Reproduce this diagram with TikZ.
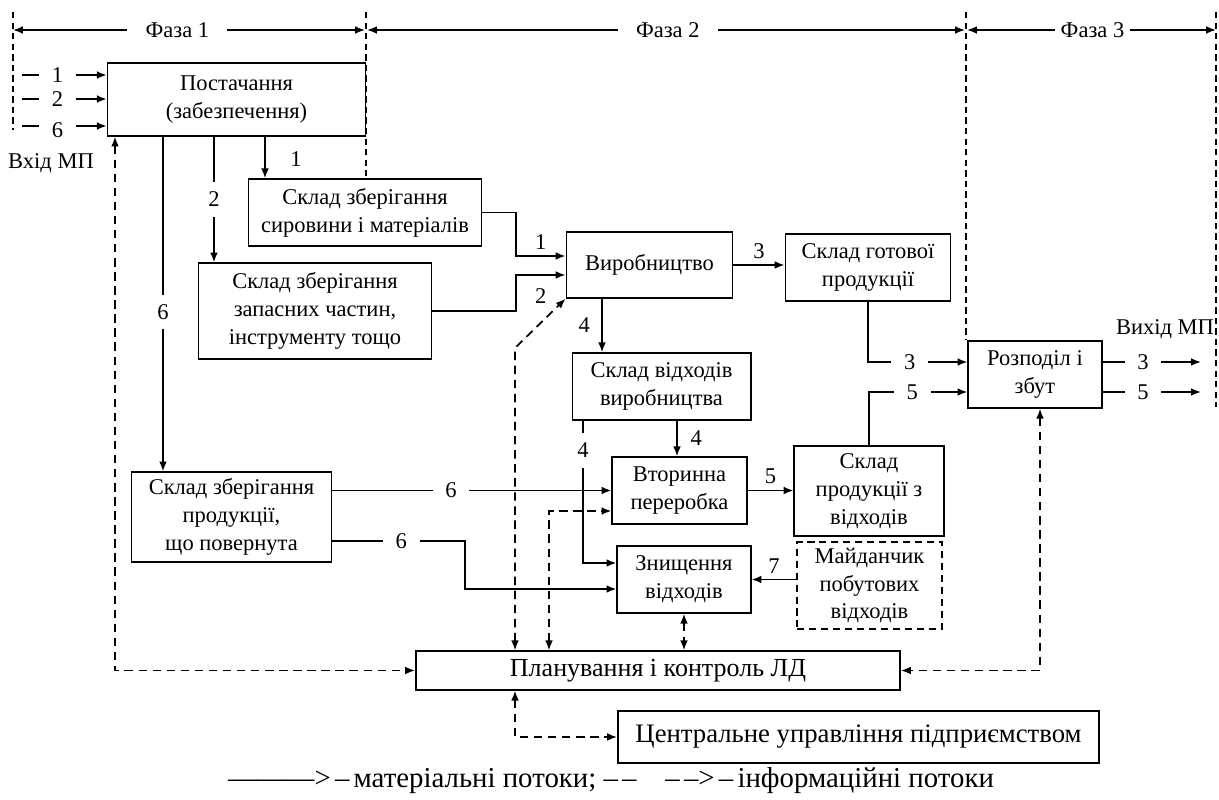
\documentclass[tikz,border=0pt]{standalone}
\usepackage{fontspec}
\setmainfont{Liberation Serif}
\usetikzlibrary{arrows.meta,calc}
\begin{document}
\begin{tikzpicture}[x=0.025cm,y=-0.025cm,
  >={Latex[length=7pt,width=5.5pt]},
  txt/.style={font=\fontsize{16}{19.8}\selectfont},
  box/.style={draw,line width=1.1pt,inner sep=0pt,align=center,txt},
  dbox/.style={box,dash pattern=on 5pt off 3.5pt},
  flow/.style={line width=1.2pt,->},
  info/.style={line width=1.2pt,dash pattern=on 6pt off 4pt,<->},
  hl/.style={fill=white,inner xsep=9pt,inner ysep=2pt,txt},
  vl/.style={fill=white,inner xsep=2pt,inner ysep=7pt,txt},
  nl/.style={inner sep=1pt,txt},
  phase/.style={line width=0.9pt,dash pattern=on 4.5pt off 3pt},
  parr/.style={line width=1.2pt,<->},
]
\useasboundingbox (0,0) rectangle (1219,800);

% ---------- boxes ----------
\node[box,minimum width=183.5pt,minimum height=51.7pt] (post) at (236.5,99.5) {Постачання\\(забезпечення)};
\node[box,minimum width=165.8pt,minimum height=47.5pt] (syr) at (365,212.5) {Склад зберігання\\сировини і матеріалів};
\node[box,minimum width=165.8pt,minimum height=68pt] (zap) at (315,311) {Склад зберігання\\запасних частин,\\інструменту тощо};
\node[box,minimum width=118.3pt,minimum height=46.8pt] (vyr) at (649.5,265) {Виробництво};
\node[box,minimum width=117.6pt,minimum height=47.5pt] (got) at (868,267.5) {Склад готової\\продукції};
\node[box,minimum width=95pt,minimum height=47.5pt] (rozp) at (1035,374.5) {Розподіл і\\збут};
\node[box,minimum width=126.9pt,minimum height=47.5pt] (vidh) at (661.5,386.5) {Склад відходів\\виробництва};
\node[box,minimum width=95.7pt,minimum height=47.5pt] (vtor) at (679.5,490.5) {Вторинна\\переробка};
\node[box,minimum width=95pt,minimum height=47.5pt] (znysh) at (684,579.5) {Знищення\\відходів};
\node[box,minimum width=106.3pt,minimum height=63.8pt] (prvid) at (869,491) {Склад\\продукції з\\відходів};
\node[dbox,minimum width=102.8pt,minimum height=61.7pt] (maid) at (869.5,585.5) {Майданчик\\побутових\\відходів};
\node[box,minimum width=142.4pt,minimum height=63.8pt] (povern) at (231.5,517) {Склад зберігання\\продукції,\\що повернута};
\node[box,minimum width=344.4pt,minimum height=27.6pt,font=\fontsize{18.5}{22}\selectfont] (plan) at (658,670.5) {Планування і контроль ЛД};
\node[box,minimum width=342.3pt,minimum height=36.9pt,font=\fontsize{19}{22}\selectfont] (centr) at (858.5,737) {Центральне управління підприємством};

% ---------- free texts ----------
\node[txt] (vhid) at (51,163) {Вхід МП};
\node[txt] (vyhid) at (1165,329) {Вихід МП};
\node[font=\fontsize{20.5}{24}\selectfont] (legend) at (611,781) {———>\hspace{3pt}–\hspace{3pt}матеріальні потоки; –\hspace{3pt}–\quad–\hspace{3pt}–>\hspace{3pt}–\hspace{3pt}інформаційні потоки};

% ---------- helper coordinates ----------
\coordinate (x115) at (115,0);
\coordinate (x163) at (163,0);
\coordinate (x214) at (214,0);
\coordinate (x265) at (265,0);
\coordinate (x515) at (515,0);
\coordinate (x549) at (549,0);
\coordinate (x583) at (583,0);
\coordinate (x602) at (602,0);
\coordinate (x677) at (677,0);
\coordinate (x1040) at (1040,0);
\coordinate (y362) at (0,362);
\coordinate (y392) at (0,392);
\coordinate (y511) at (0,511);
\coordinate (y541) at (0,541);
\coordinate (y563) at (0,563);
\coordinate (j1) at (516,256);
\coordinate (j2) at (516,275);
\coordinate (j3) at (465,589);
\coordinate (k1) at (515,348);
\coordinate (i1) at (22,75);
\coordinate (i2) at (22,99);
\coordinate (i6) at (22,126);
\coordinate (o3) at (1201,362);
\coordinate (o5) at (1201,392);

% ---------- phases ----------
\coordinate (p0) at (13,30);
\coordinate (p1) at (365,30);
\coordinate (p1b) at (367,30);
\coordinate (p2) at (965,30);
\coordinate (p2b) at (967,30);
\coordinate (p3) at (1216,30);
\draw[phase] (13,12) -- (13,130);
\draw[phase] (366,12) -- (366,176);
\draw[phase] (966,12) -- (966,339);
\draw[phase] (1216,12) -- (1216,407);
\draw[parr] (p0) -- node[pos=0.467,fill=white,inner xsep=13pt,inner ysep=2pt,txt]{Фаза 1} (p1);
\draw[parr] (p1b) -- node[pos=0.503,fill=white,inner xsep=13pt,inner ysep=2pt,txt]{Фаза 2} (p2);
\draw[parr] (p2b) -- node[pos=0.504,fill=white,inner xsep=4pt,inner ysep=2pt,txt]{Фаза 3} (p3);

% ---------- inputs / outputs ----------
\draw[flow] (i1) -- node[pos=0.42,hl]{1} (post.west |- i1);
\draw[flow] (i2) -- node[pos=0.42,hl]{2} (post.west |- i2);
\draw[flow] (i6) -- node[pos=0.42,hl,yshift=-3pt]{6} (post.west |- i6);
\draw[flow] (rozp.east |- o3) -- node[pos=0.41,hl]{3} (o3);
\draw[flow] (rozp.east |- o5) -- node[pos=0.41,hl]{5} (o5);

% ---------- material flows ----------
\draw[flow] (post.south -| x163) -- node[pos=0.524,vl]{6} (povern.north -| x163);
\draw[flow] (post.south -| x214) -- node[pos=0.5,vl]{2} (zap.north -| x214);
\draw[flow] (post.south -| x265) -- node[pos=0.55,nl,xshift=22pt]{1} (syr.north -| x265);
\draw[flow] (syr.east) -| (j1) -- node[midway,above=3pt,nl]{1} (vyr.west |- j1);
\draw[flow] (zap.east) -| (j2) -- node[midway,below=8pt,nl]{2} (vyr.west |- j2);
\draw[flow] (vyr.east) -- node[midway,above=3pt,nl]{3} (got.west |- vyr.east);
\draw[flow] (vyr.south -| x602) -- node[midway,left=7pt,nl]{4} (vidh.north -| x602);
\draw[flow] (vidh.south -| x677) -- node[midway,right=8pt,nl]{4} (vtor.north -| x677);
\draw[flow] (vidh.south -| x583) -- node[pos=0.21,vl]{4} (x583 |- y563) -- (znysh.west |- y563);
\draw[flow] (povern.east |- vtor.west) -- node[pos=0.425,hl]{6} (vtor.west);
\draw[flow] (povern.east |- y541) -- node[pos=0.52,hl]{6} (j3 |- y541) -- (j3) -- (znysh.west |- j3);
\draw[flow] (vtor.east) -- node[midway,above=3pt,nl]{5} (prvid.west |- vtor.east);
\draw[flow] (maid.west |- znysh.east) -- node[midway,above=3pt,nl]{7} (znysh.east);
\draw[flow] (got.south) |- node[pos=0.71,hl]{3} (rozp.west |- y362);
\draw[flow] (prvid.north) |- node[pos=0.72,hl]{5} (rozp.west |- y392);

% ---------- information flows ----------
\draw[info] (plan.north -| x515) -- (k1) -- (vyr.south west);
\draw[info] (plan.north -| x549) |- (vtor.west |- y511);
\draw[info] (znysh.south) -- (plan.north -| znysh.south);
\draw[info] (rozp.south -| x1040) |- (plan.east);
\draw[info] (post.south -| x115) |- (plan.west);
\draw[info] (plan.south -| x515) |- (centr.west);
\end{tikzpicture}
\end{document}
